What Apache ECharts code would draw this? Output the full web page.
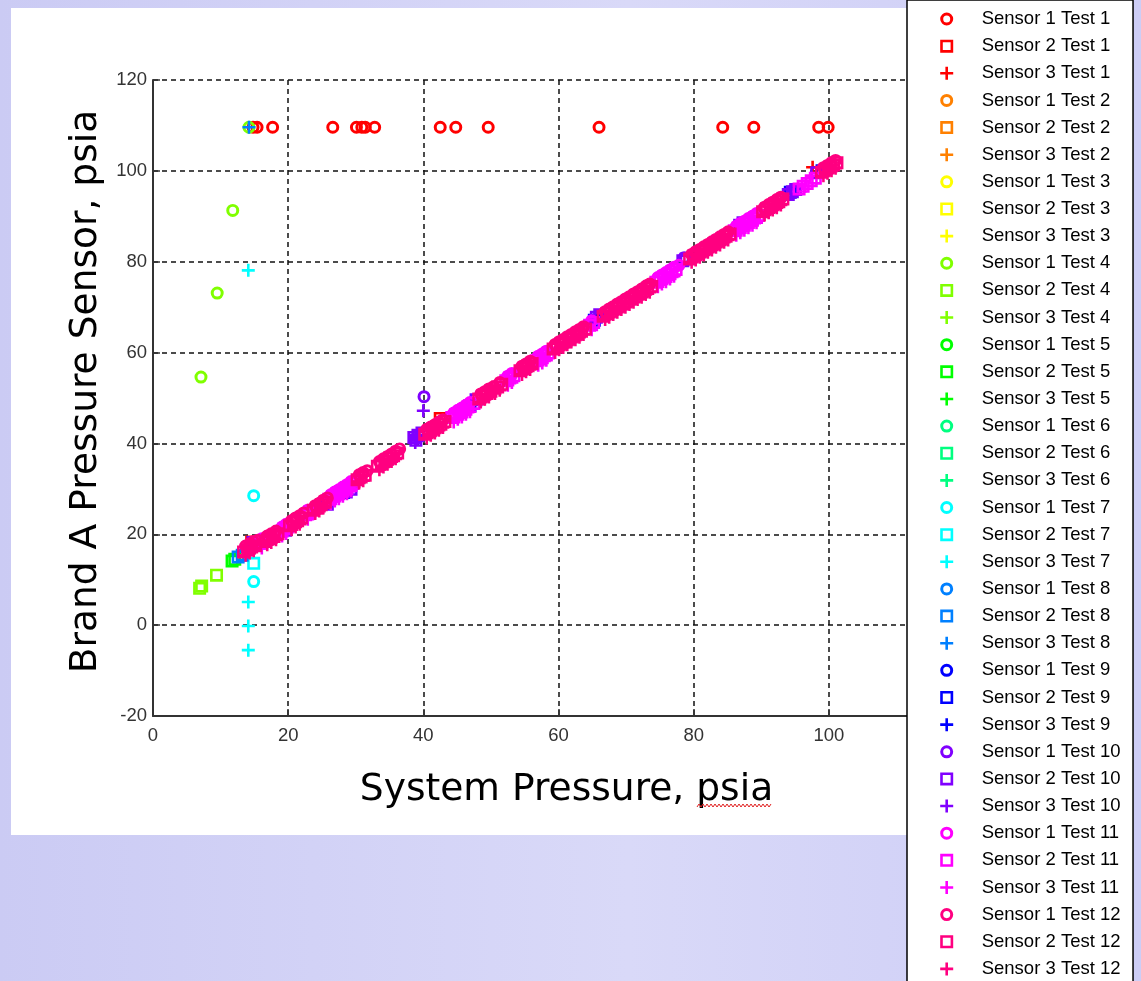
<!DOCTYPE html>
<html><head><meta charset="utf-8">
<script src="https://cdn.jsdelivr.net/npm/echarts@6/dist/echarts.min.js"></script>
<style>html,body{margin:0;padding:0;width:1141px;height:981px;overflow:hidden}#c{width:1141px;height:1010px}</style>
</head><body><div id="c"></div><script>
// ---- axis ticks ----
const xTicks = [0, 20, 40, 60, 80, 100, 120];
const yTicks = [-20, 0, 20, 40, 60, 80, 100, 120];
const testColors = ['#FF0000','#FF8000','#FFFF00','#80FF00','#00FF00','#00FF80','#00FFFF','#0080FF','#0000FF','#8000FF','#FF00FF','#FF0080'];

// ---- data: [system pressure, sensor reading] ----
const t1s1 = [[14.8,109.6],[15.4,109.6],[17.7,109.6],[26.6,109.6],[30.1,109.6],[30.9,109.6],[31.4,109.6],[32.8,109.6],[42.5,109.6],[44.8,109.6],[49.6,109.6],[66.0,109.6],[84.3,109.6],[88.9,109.6],[98.5,109.6],[99.9,109.6]];
const t1s2 = [[42.5,45.5],[14.6,18.3]];
const t1s3 = [[97.6,100.8]];
const t2s1 = [], t2s2 = [], t2s3 = [];
const t3s1 = [], t3s2 = [], t3s3 = [];
const t4s1 = [[7.1,54.6],[9.5,73.1],[11.8,91.3],[14.2,109.6]];
const t4s2 = [[6.9,8.1],[7.2,8.6],[9.4,11.0]];
const t4s3 = [];
const t5s1 = [];
const t5s2 = [[11.7,14.1],[12.1,14.5]];
const t5s3 = [];
const t6s1 = [], t6s2 = [], t6s3 = [];
const t7s1 = [[14.9,28.5],[14.9,9.6]];
const t7s2 = [[14.9,13.6]];
const t7s3 = [[14.1,78.1],[14.1,5.1],[14.1,-0.2],[14.1,-5.5]];
const t8s1 = [];
const t8s2 = [[12.6,15.0],[13.2,15.4]];
const t8s3 = [[14.2,109.6]];
const t9s1 = [[46.5,48.0]];
const t9s2 = [[28.2,29.2],[46.9,48.3],[65.3,67.1],[94.3,95.3],[99.0,100.0]];
const t9s3 = [[65.0,66.8]];
const t10s1 = [[40.1,50.3],[39.5,41.6],[66.0,67.9],[78.6,80.9],[94.8,95.9]];
const t10s2 = [[14.8,18.2],[19.6,20.9],[25.8,26.6],[28.6,29.3],[29.3,29.9],[38.6,41.3],[39.2,41.8],[39.8,42.3],[38.9,40.7],[47.8,49.6],[65.6,67.8],[66.1,68.3],[78.4,80.2],[78.9,80.6],[86.8,88.0],[87.3,88.6],[94.0,94.8],[94.6,95.4],[95.1,95.9],[98.2,99.6]];
const t10s3 = [[40.0,47.2],[39.0,41.0],[94.4,94.9],[38.8,40.2]];
const t11s1 = [[16.0,18.8],[19.6,21.9],[23.0,25.2],[27.0,29.3],[29.8,31.7],[45.0,47.0],[53.0,55.0],[58.0,60.0],[75.5,77.0],[77.8,79.2],[87.0,88.3],[88.8,90.0],
  [16.1,19.0],[19.1,21.6],[19.7,22.2],[22.9,25.3],[26.3,28.7],[26.9,29.3],[27.5,29.8],[28.1,30.4],[28.7,30.9],[29.3,31.6],[44.5,46.7],[45.1,47.3],[45.7,47.8],[46.3,48.4],[46.9,49.0],[52.5,54.8],[53.1,55.4],[57.0,59.2],[57.6,59.7],[58.2,60.3],[64.9,67.0],[74.7,76.5],[75.3,77.1],[75.9,77.6],[76.5,78.2],[77.1,78.8],[86.3,87.8],[86.9,88.4],[87.5,88.9],[88.1,89.5],[88.7,90.0],[89.3,90.6]];
const t11s2 = [[15.8,18.0],[16.3,18.6],[18.8,20.6],[19.4,21.2],[19.9,21.6],[22.6,24.3],[23.2,24.9],[26.0,27.7],[26.6,28.3],[27.2,28.8],[27.8,29.4],[28.4,29.9],[29.0,30.6],[29.6,31.2],[44.2,45.7],[44.8,46.3],[45.4,46.8],[46.0,47.4],[46.6,48.0],[47.5,48.8],[52.2,53.8],[52.8,54.4],[53.4,54.9],[56.7,58.2],[57.3,58.7],[57.9,59.3],[58.5,59.9],[64.6,66.0],[65.2,66.6],[74.4,75.5],[75.0,76.1],[75.6,76.6],[76.2,77.2],[76.8,77.8],[77.4,78.3],[86.0,86.8],[86.6,87.4],[87.2,87.9],[87.8,88.5],[88.4,89.0],[89.0,89.6],[89.6,90.2],[95.6,96.0],[96.2,96.6],[96.8,97.2],[97.4,97.8],[98.0,98.4]];
const t11s3 = [[16.5,18.0],[19.2,20.7],[26.5,27.9],[28.8,30.2],[46.2,47.2],[52.5,53.5],[57.5,58.5],[76.0,76.7],[87.5,88.0],[96.5,96.6],
  [16.1,17.0],[19.1,19.6],[19.7,20.2],[22.9,23.3],[26.3,26.7],[26.9,27.3],[27.5,27.8],[28.1,28.4],[28.7,28.9],[29.3,29.6],[44.5,44.7],[45.1,45.3],[45.7,45.8],[46.3,46.4],[46.9,47.0],[52.5,52.8],[53.1,53.4],[57.0,57.2],[57.6,57.7],[58.2,58.3],[64.9,65.0],[74.7,74.5],[75.3,75.1],[75.9,75.6],[76.5,76.2],[77.1,76.8],[86.3,85.8],[86.9,86.4],[87.5,86.9],[88.1,87.5],[88.7,88.0],[89.3,88.6]];
const t12s1 = [[14.2,17.3],[17.5,19.8],[21.0,23.3],[24.6,26.7],[31.0,33.4],[34.8,37.0],[41.0,43.4],[49.0,51.0],[55.0,57.0],[60.6,62.6],[63.0,64.8],[67.5,69.3],[70.5,72.2],[73.0,74.7],[80.3,81.9],[83.3,84.6],[90.5,91.7],[92.8,93.9],[99.8,100.9],
  [13.7,17.4],[14.3,17.9],[14.9,18.4],[15.5,18.7],[16.9,19.6],[17.5,20.1],[18.2,20.7],[20.5,23.0],[21.1,23.6],[21.7,24.1],[22.3,24.7],[24.0,26.3],[24.6,26.8],[25.2,27.5],[25.8,28.0],[30.5,33.1],[31.1,33.6],[31.7,34.0],[33.5,36.0],[34.1,36.6],[34.7,37.1],[35.3,37.7],[35.9,38.3],[36.5,38.8],[40.5,43.1],[41.1,43.6],[41.7,44.1],[42.3,44.7],[42.9,45.2],[48.5,50.9],[49.1,51.4],[49.7,52.0],[50.4,52.5],[51.3,53.4],[54.6,57.0],[55.2,57.5],[55.8,58.1],[59.5,61.8],[60.1,62.4],[60.7,62.9],[61.3,63.5],[61.9,64.0],[62.5,64.6],[63.1,65.1],[63.7,65.7],[66.9,69.0],[67.5,69.6],[68.1,70.1],[68.7,70.7],[69.3,71.2],[69.9,71.8],[70.5,72.3],[71.1,72.9],[71.7,73.4],[72.3,74.0],[72.9,74.5],[73.5,75.1],[79.7,81.6],[80.3,82.2],[80.9,82.7],[81.5,83.3],[82.1,83.8],[82.7,84.4],[83.3,84.9],[83.9,85.5],[84.5,86.0],[85.1,86.6],[90.5,92.0],[91.1,92.6],[91.7,93.1],[92.3,93.7],[92.9,94.2],[99.2,100.7],[99.8,101.2],[100.4,101.8],[101.0,102.3]];
const t12s2 = [[13.4,16.1],[14.0,16.6],[14.6,17.2],[15.2,17.5],[16.6,18.4],[17.2,19.0],[17.9,19.5],[18.5,20.1],[20.2,21.9],[20.8,22.6],[21.4,23.0],[22.0,23.6],[23.7,25.3],[24.3,25.8],[24.9,26.5],[25.5,27.1],[30.2,32.0],[30.8,32.6],[31.4,33.0],[33.2,35.0],[33.8,35.5],[34.4,36.1],[35.0,36.8],[35.6,37.3],[36.2,37.9],[40.2,42.0],[40.8,42.5],[41.4,43.1],[42.0,43.6],[42.6,44.2],[43.2,44.8],[48.2,49.8],[48.8,50.4],[49.4,51.0],[50.0,51.5],[51.0,52.4],[51.6,53.0],[54.3,56.0],[54.9,56.5],[55.5,57.1],[56.1,57.6],[59.2,60.8],[59.8,61.3],[60.4,61.9],[61.0,62.4],[61.6,63.0],[62.2,63.6],[62.8,64.1],[63.4,64.7],[64.0,65.2],[66.6,68.0],[67.2,68.6],[67.8,69.1],[68.4,69.7],[69.0,70.2],[69.6,70.8],[70.2,71.3],[70.8,71.9],[71.4,72.4],[72.0,73.0],[72.6,73.5],[73.2,74.1],[73.8,74.6],[79.4,80.6],[80.0,81.2],[80.6,81.7],[81.2,82.3],[81.8,82.8],[82.4,83.4],[83.0,83.9],[83.6,84.5],[84.2,85.0],[84.8,85.6],[85.4,86.1],[90.2,91.0],[90.8,91.6],[91.4,92.1],[92.0,92.7],[92.6,93.2],[93.2,93.8],[98.9,99.7],[99.5,100.2],[100.1,100.8],[100.7,101.3],[101.2,101.8]];
const t12s3 = [[15.0,16.9],[18.0,19.2],[21.6,22.8],[25.2,26.3],[30.5,31.6],[35.3,36.6],[41.8,42.8],[50.5,51.4],[55.8,56.9],[61.9,62.8],[68.8,69.6],[72.3,72.9],[81.5,82.0],[84.5,84.9],[91.7,91.9],[100.4,100.6],
  [13.7,15.4],[14.3,15.9],[14.9,16.4],[16.9,17.7],[17.5,18.2],[18.2,18.8],[20.5,21.0],[21.1,21.6],[21.7,22.2],[24.0,24.6],[24.6,25.1],[25.2,25.8],[30.5,31.3],[31.1,31.8],[33.5,34.2],[34.1,34.8],[34.7,35.4],[35.3,36.0],[35.9,36.6],[40.5,41.2],[41.1,41.8],[41.7,42.3],[42.3,42.9],[42.9,43.5],[48.5,49.1],[49.1,49.7],[49.7,50.2],[50.6,51.0],[51.3,51.7],[54.6,55.2],[55.2,55.8],[55.8,56.3],[59.5,60.0],[60.1,60.6],[60.7,61.1],[61.3,61.7],[61.9,62.3],[62.5,62.8],[63.1,63.4],[63.7,64.0],[66.9,67.3],[67.5,67.8],[68.1,68.4],[68.7,68.9],[69.3,69.5],[69.9,70.0],[70.5,70.6],[71.1,71.1],[71.7,71.7],[72.3,72.2],[72.9,72.8],[73.5,73.3],[79.7,79.9],[80.3,80.4],[80.9,81.0],[81.5,81.5],[82.1,82.1],[82.7,82.6],[83.3,83.2],[83.9,83.7],[84.5,84.3],[85.1,84.8],[90.5,90.3],[91.1,90.8],[91.7,91.4],[92.3,91.9],[92.9,92.5],[99.2,98.9],[99.8,99.5],[100.4,100.0],[101.0,100.6]];

const allTests = [
  [t1s1,t1s2,t1s3],[t2s1,t2s2,t2s3],[t3s1,t3s2,t3s3],[t4s1,t4s2,t4s3],
  [t5s1,t5s2,t5s3],[t6s1,t6s2,t6s3],[t7s1,t7s2,t7s3],[t8s1,t8s2,t8s3],
  [t9s1,t9s2,t9s3],[t10s1,t10s2,t10s3],[t11s1,t11s2,t11s3],[t12s1,t12s2,t12s3]
];

// ---- marker shapes (outline circle, outline square, plus) ----
const CIRCLE = 'path://M10,0A10,10,0,1,1,10,20A10,10,0,1,1,10,0ZM10,4.6A5.4,5.4,0,1,0,10,15.4A5.4,5.4,0,1,0,10,4.6Z';
const SQUARE = 'path://M0,0H20V20H0ZM4,4V16H16V4Z';
const PLUS = 'path://M8,0H12V8H20V12H12V20H8V12H0V8H8Z';
const SYMS = [CIRCLE, SQUARE, PLUS];

const series = [];
const legendData = [];
allTests.forEach((sensors, ti) => {
  sensors.forEach((pts, si) => {
    const name = 'Sensor ' + (si + 1) + ' Test ' + (ti + 1);
    series.push({
      type: 'scatter', name: name, data: pts,
      symbol: SYMS[si], symbolSize: 13,
      itemStyle: { color: testColors[ti], opacity: 1 },
      emphasis: { disabled: true }, silent: true, animation: false, z: 2
    });
    legendData.push({ name: name, icon: SYMS[si], itemStyle: { color: testColors[ti] } });
  });
});

// decoration: spell-check squiggle under "psia"
const squiggle = [];
for (let x = 697; x <= 772; x += 2) squiggle.push([x, (Math.round((x - 697) / 2) % 2) ? 804 : 807]);

const chart = echarts.init(document.getElementById('c'), null, { renderer: 'canvas' });
chart.setOption({
  animation: false,
  backgroundColor: { type: 'linear', x: 0, y: 0, x2: 1, y2: 0,
    colorStops: [{ offset: 0, color: '#CBCBF4' }, { offset: 0.55, color: '#D9D9F8' }, { offset: 1, color: '#CDCDF6' }] },
  graphic: [
    { type: 'rect', z: -10, shape: { x: 11, y: 8, width: 905, height: 827 }, style: { fill: '#ffffff' }, silent: true },
    { type: 'polyline', z: 100, shape: { points: squiggle }, style: { stroke: '#E02020', lineWidth: 1, fill: null }, silent: true }
  ],
  grid: { left: 153, top: 80, width: 811, height: 636, containLabel: false },
  xAxis: {
    type: 'value', min: xTicks[0], max: xTicks[xTicks.length - 1], interval: 20,
    name: 'System Pressure, psia', nameLocation: 'middle', nameGap: 55,
    nameTextStyle: { fontFamily: 'DejaVu Sans', fontSize: 37.6, color: '#000', padding: [0, 0, 0, 16] },
    axisLine: { show: true, onZero: false, lineStyle: { color: '#333', width: 2 } },
    axisTick: { show: true, inside: true, length: 7, lineStyle: { color: '#333', width: 1.5 } },
    axisLabel: { fontFamily: 'Liberation Sans', fontSize: 18.5, color: '#333', margin: 10 },
    splitLine: { show: true, lineStyle: { type: [5, 4], color: '#111', width: 1.5 } }
  },
  yAxis: {
    type: 'value', min: yTicks[0], max: yTicks[yTicks.length - 1], interval: 20,
    name: 'Brand A Pressure Sensor, psia', nameLocation: 'middle', nameGap: 45, nameRotate: 90,
    nameTextStyle: { fontFamily: 'DejaVu Sans', fontSize: 37.6, color: '#000', padding: [0, 0, 0, 13] },
    axisLine: { show: true, onZero: false, lineStyle: { color: '#333', width: 2 } },
    axisTick: { show: true, inside: true, length: 7, lineStyle: { color: '#333', width: 1.5 } },
    axisLabel: { fontFamily: 'Liberation Sans', fontSize: 18.5, color: '#333', margin: 6 },
    splitLine: { show: true, lineStyle: { type: [5, 4], color: '#111', width: 1.5 } }
  },
  legend: {
    show: true, orient: 'vertical', left: 907, top: 0,
    padding: [9.5, 12.5, 20, 33.2], itemWidth: 60, itemHeight: 13, itemGap: 8.14,
    backgroundColor: '#ffffff', borderColor: '#000', borderWidth: 1.5,
    selectedMode: false, z: 20,
    textStyle: { fontFamily: 'Liberation Sans', fontSize: 18.5, color: '#000' },
    data: legendData
  },
  series: series
});
</script></body></html>
